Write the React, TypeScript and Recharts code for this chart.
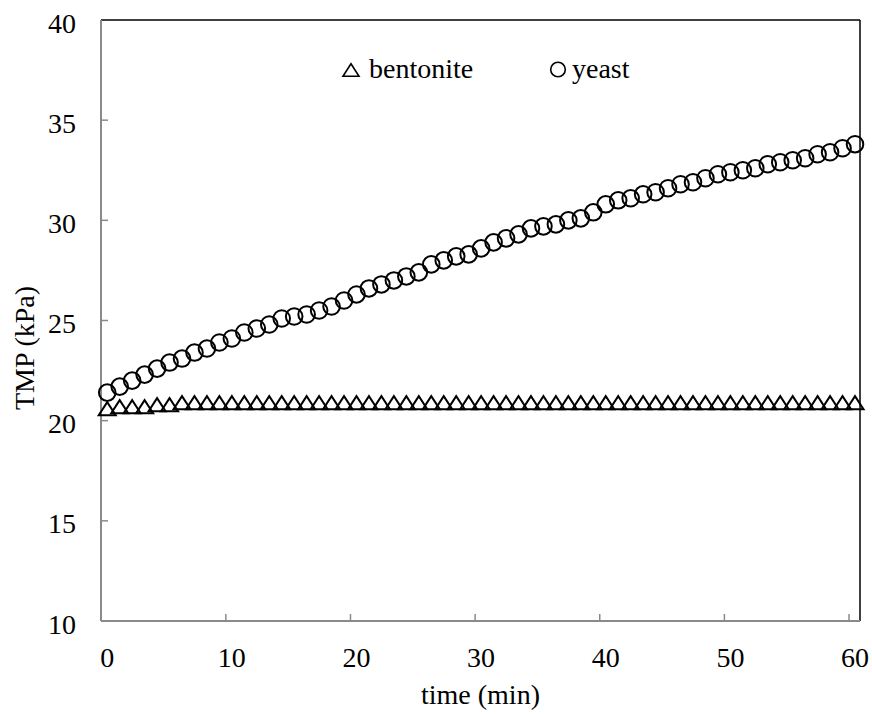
import { Legend, ReferenceLine, Scatter, ScatterChart, XAxis, YAxis } from "recharts";

const timeMin = [
  0, 1, 2, 3, 4, 5, 6, 7, 8, 9, 10, 11, 12, 13, 14, 15, 16, 17, 18, 19, 20,
  21, 22, 23, 24, 25, 26, 27, 28, 29, 30, 31, 32, 33, 34, 35, 36, 37, 38, 39, 40,
  41, 42, 43, 44, 45, 46, 47, 48, 49, 50, 51, 52, 53, 54, 55, 56, 57, 58, 59, 60,
];

const bentoniteTmp = [
  20.6, 20.7, 20.7, 20.7, 20.8, 20.8, 20.9, 20.9, 20.9, 20.9, 20.9,
  20.9, 20.9, 20.9, 20.9, 20.9, 20.9, 20.9, 20.9, 20.9, 20.9,
  20.9, 20.9, 20.9, 20.9, 20.9, 20.9, 20.9, 20.9, 20.9, 20.9,
  20.9, 20.9, 20.9, 20.9, 20.9, 20.9, 20.9, 20.9, 20.9, 20.9,
  20.9, 20.9, 20.9, 20.9, 20.9, 20.9, 20.9, 20.9, 20.9, 20.9,
  20.9, 20.9, 20.9, 20.9, 20.9, 20.9, 20.9, 20.9, 20.9, 20.9,
];

const yeastTmp = [
  21.4, 21.7, 22.0, 22.3, 22.6, 22.9, 23.1, 23.4, 23.6, 23.9, 24.1,
  24.4, 24.6, 24.8, 25.1, 25.2, 25.3, 25.5, 25.7, 26.0, 26.3,
  26.6, 26.8, 27.0, 27.2, 27.4, 27.8, 28.0, 28.2, 28.3, 28.6,
  28.9, 29.1, 29.3, 29.6, 29.7, 29.8, 30.0, 30.1, 30.4, 30.8,
  31.0, 31.1, 31.3, 31.4, 31.6, 31.8, 31.9, 32.1, 32.3, 32.4,
  32.5, 32.6, 32.8, 32.9, 33.0, 33.1, 33.3, 33.4, 33.6, 33.8,
];

const xTicks = [0, 10, 20, 30, 40, 50, 60];
const yTicks = [10, 15, 20, 25, 30, 35, 40];

const FONT = "'Liberation Serif', 'Times New Roman', serif";
const FONT_SIZE = 28;
const AXIS_GRAY = "#8a8a8a";
const Y_TICK_GAP = 25;
const X_TICK_GAP = 26;
const TICK_LEN = 7;

const textStyle = { fontFamily: FONT, fontSize: FONT_SIZE, fill: "#000" };

const bentoniteData = timeMin.map((t, i) => ({ t, v: bentoniteTmp[i] }));
const yeastData = timeMin.map((t, i) => ({ t, v: yeastTmp[i] }));

function Triangle({ cx, cy, w = 17, h = 13, sw = 2 }: any) {
  return (
    <polygon
      points={`${cx},${cy - h / 2} ${cx - w / 2},${cy + h / 2} ${cx + w / 2},${cy + h / 2}`}
      fill="none"
      stroke="#000"
      strokeWidth={sw}
      strokeLinejoin="miter"
    />
  );
}

function Ring({ cx, cy, r = 8.3, sw = 2 }: any) {
  return <circle cx={cx} cy={cy} r={r} fill="none" stroke="#000" strokeWidth={sw} />;
}

function YTick({ x, y, payload }: any) {
  const v = payload.value;
  const axisX = x + Y_TICK_GAP;
  return (
    <g>
      <text x={x} y={y + 3} textAnchor="end" dominantBaseline="central" style={textStyle}>
        {v}
      </text>
      {v !== 10 && v !== 40 && (
        <line x1={axisX} x2={axisX + TICK_LEN} y1={y} y2={y} stroke={AXIS_GRAY} strokeWidth={1.5} />
      )}
    </g>
  );
}

function XTick({ x, y, payload }: any) {
  const v = payload.value;
  const axisY = y - X_TICK_GAP;
  return (
    <g>
      <text x={x} y={y + 10} textAnchor="middle" dominantBaseline="central" style={textStyle}>
        {v}
      </text>
      {v !== 0 && (
        <line x1={x - 6} x2={x - 6} y1={axisY} y2={axisY - TICK_LEN} stroke={AXIS_GRAY} strokeWidth={1.5} />
      )}
    </g>
  );
}

function LegendBox({ payload }: any) {
  const items = payload || [];
  const pos = [
    { mx: 351, tx: 369 },
    { mx: 558, tx: 572 },
  ];
  return (
    <svg width={872} height={100} style={{ position: "absolute", left: 0, top: 0, overflow: "visible" }}>
      {items.map((it: any, i: number) => (
        <g key={it.value}>
          {i === 0 ? (
            <Triangle cx={pos[i].mx} cy={70} w={16} h={12.5} sw={1.6} />
          ) : (
            <Ring cx={pos[i].mx} cy={69.5} r={7.3} sw={1.6} />
          )}
          <text x={pos[i].tx} y={78} style={textStyle}>
            {it.value}
          </text>
        </g>
      ))}
    </svg>
  );
}

function YLabel() {
  return (
    <text
      x={24}
      y={348}
      transform="rotate(-90 24 348)"
      textAnchor="middle"
      dominantBaseline="central"
      style={textStyle}
    >
      TMP (kPa)
    </text>
  );
}

export default function App() {
  return (
    <div style={{ position: "absolute", left: 0, top: 0, width: 872, height: 718, background: "#fff" }}>
      <ScatterChart width={872} height={718} margin={{ top: 20, right: 12, bottom: 0, left: 0 }}>
        <XAxis
          type="number"
          dataKey="t"
          domain={[-0.5, 60.4]}
          ticks={xTicks}
          interval={0}
          height={97}
          tickSize={0}
          tickMargin={X_TICK_GAP}
          tick={<XTick />}
          axisLine={{ stroke: AXIS_GRAY, strokeWidth: 2 }}
          tickLine={false}
          label={{
            value: "time (min)",
            position: "insideBottom",
            offset: 14,
            style: textStyle,
          }}
        />
        <YAxis
          type="number"
          dataKey="v"
          domain={[10, 40]}
          ticks={yTicks}
          interval={0}
          width={101}
          tickSize={0}
          tickMargin={Y_TICK_GAP}
          tick={<YTick />}
          axisLine={{ stroke: AXIS_GRAY, strokeWidth: 2 }}
          tickLine={false}
          label={<YLabel />}
        />
        <ReferenceLine y={40} stroke="#000" strokeWidth={1.5} />
        <ReferenceLine x={60.4} stroke="#000" strokeWidth={1.5} />
        <Legend
          content={<LegendBox />}
          wrapperStyle={{ position: "absolute", left: 0, top: 0, width: 0, height: 0, overflow: "visible" }}
        />
        <Scatter
          name="bentonite"
          data={bentoniteData}
          isAnimationActive={false}
          shape={(p: any) => <Triangle cx={p.cx} cy={p.cy} />}
        />
        <Scatter
          name="yeast"
          data={yeastData}
          isAnimationActive={false}
          shape={(p: any) => <Ring cx={p.cx} cy={p.cy} />}
        />
      </ScatterChart>
    </div>
  );
}
